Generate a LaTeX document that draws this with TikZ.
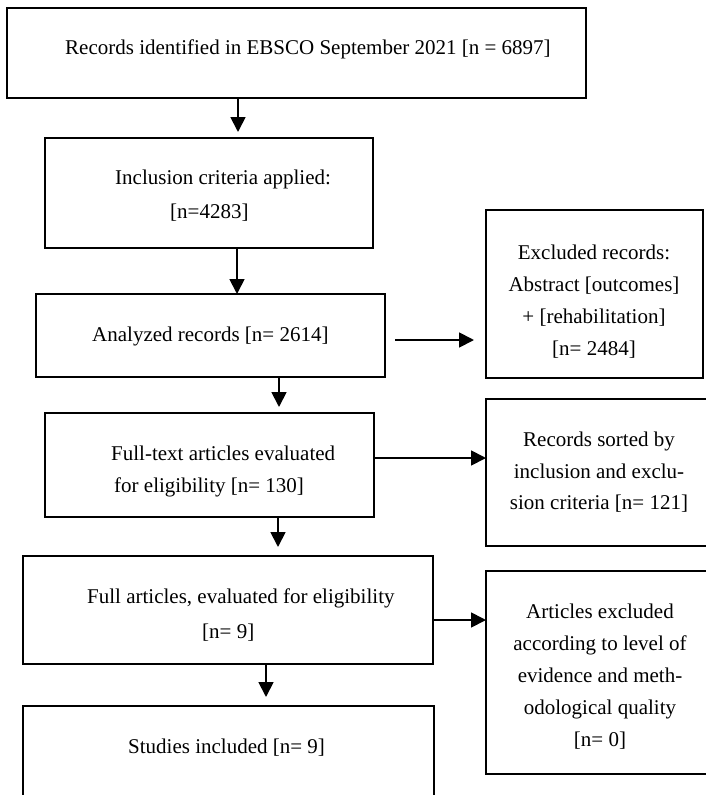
\documentclass[tikz,border=0pt]{standalone}
\usepackage{fontspec}
\setmainfont{Liberation Serif}
\usetikzlibrary{arrows.meta}
\begin{document}
\begin{tikzpicture}[x=1pt,y=-1pt,
  box/.style={draw=black, line width=1.8pt, rectangle, inner sep=0pt, outer sep=0pt},
  txt/.style={inner sep=0pt, anchor=base west, font=\fontsize{21}{25}\selectfont},
  ctxt/.style={inner sep=0pt, anchor=base, font=\fontsize{21}{25}\selectfont},
  arr/.style={line width=1.8pt, -{Triangle[length=15pt,width=15pt]}}]
\useasboundingbox (0,0) rectangle (706,795);
\fill[white] (0,0) rectangle (706,795);
\clip (0,0) rectangle (706,795);

% boxes
\node[box, minimum width=579pt, minimum height=90pt]  (b1) at (296.5,53) {};
\node[box, minimum width=328pt, minimum height=110pt] (b2) at (209,193) {};
\node[box, minimum width=349pt, minimum height=83pt]  (b3) at (210.5,335.5) {};
\node[box, minimum width=329pt, minimum height=104pt] (b4) at (209.5,465) {};
\node[box, minimum width=410pt, minimum height=108pt] (b5) at (228,610) {};
\node[box, minimum width=411pt, minimum height=114pt] (b6) at (228.5,763) {};
\node[box, minimum width=217pt, minimum height=168pt] (e1) at (594.5,294) {};
\node[box, minimum width=226pt, minimum height=147pt] (e2) at (599,472.5) {};
\node[box, minimum width=226pt, minimum height=203pt] (e3) at (599,672.5) {};

% texts
\node[txt] (t1) at (65,54) {Records identified in EBSCO September 2021 [n = 6897]};
\node[txt] (t2a) at (115,184) {Inclusion criteria applied:};
\node[txt] (t2b) at (170,218) {[n=4283]};
\node[txt] (t3) at (92,341) {Analyzed records [n= 2614]};
\node[txt] (t4a) at (111,460) {Full-text articles evaluated};
\node[txt] (t4b) at (114,492) {for eligibility [n= 130]};
\node[txt] (t5a) at (87,603) {Full articles, evaluated for eligibility};
\node[txt] (t5b) at (202,638) {[n= 9]};
\node[txt] (t6) at (128,753) {Studies included [n= 9]};

\node[ctxt] (e1a) at (594,259) {Excluded records:};
\node[ctxt] (e1b) at (594,291) {Abstract [outcomes]};
\node[ctxt] (e1c) at (594,323) {+ [rehabilitation]};
\node[ctxt] (e1d) at (594,355) {[n= 2484]};

\node[ctxt] (e2a) at (599,446) {Records sorted by};
\node[ctxt] (e2b) at (599,478) {inclusion and exclu-};
\node[ctxt] (e2c) at (599,509) {sion criteria [n= 121]};

\node[ctxt] (e3a) at (600,618) {Articles excluded};
\node[ctxt] (e3b) at (600,650) {according to level of};
\node[ctxt] (e3c) at (600,682) {evidence and meth-};
\node[ctxt] (e3d) at (600,714) {odological quality};
\node[ctxt] (e3e) at (600,746) {[n= 0]};

% arrow guide coordinates
\coordinate (ax1) at (238,0);
\coordinate (ax2) at (237,0);
\coordinate (ax3) at (279,0);
\coordinate (ax4) at (278,0);
\coordinate (ax5) at (266,0);
\coordinate (ry1) at (0,340);
\coordinate (ry2) at (0,458);
\coordinate (ry3) at (0,620);

% vertical arrows
\draw[arr, shorten >=6pt] (b1.south -| ax1) -- (b2.north -| ax1);
\draw[arr] (b2.south -| ax2) -- (b3.north -| ax2);
\draw[arr, shorten >=6pt] (b3.south -| ax3) -- (b4.north -| ax3);
\draw[arr, shorten >=9pt] (b4.south -| ax4) -- (b5.north -| ax4);
\draw[arr, shorten >=9pt] (b5.south -| ax5) -- (b6.north -| ax5);

% horizontal arrows
\draw[arr, shorten <=10pt, shorten >=12pt] (b3.east |- ry1) -- (e1.west |- ry1);
\draw[arr] (b4.east |- ry2) -- (e2.west |- ry2);
\draw[arr] (b5.east |- ry3) -- (e3.west |- ry3);
\end{tikzpicture}
\end{document}
